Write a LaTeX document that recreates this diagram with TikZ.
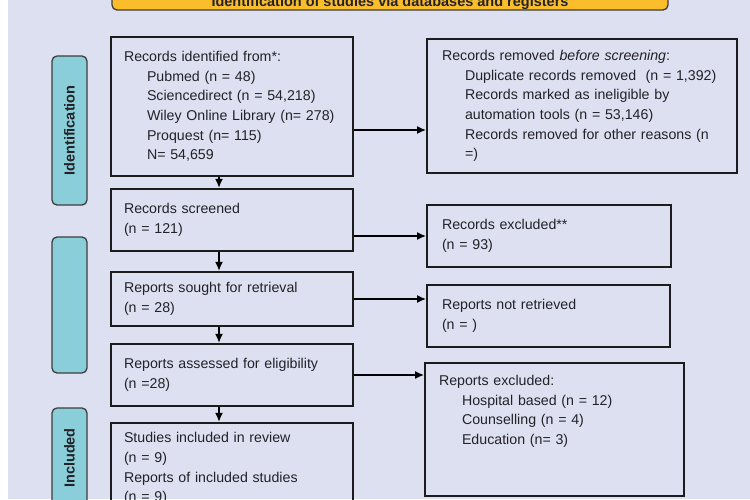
\documentclass[tikz,border=0pt]{standalone}
\usepackage{fontspec}
\setmainfont{Liberation Sans}
\usetikzlibrary{positioning,arrows.meta}
\definecolor{bgcol}{RGB}{221,224,240}
\definecolor{sidecol}{RGB}{137,206,216}
\definecolor{topcol}{RGB}{251,189,44}
\definecolor{linecol}{RGB}{28,28,28}
\definecolor{txtcol}{RGB}{34,34,40}

\begin{document}
\begin{tikzpicture}[x=1pt, y=-1pt,
  font=\fontsize{14.2pt}{19.7pt}\selectfont, text=txtcol,
  box/.style={draw=linecol, line width=2.4pt, align=left, inner xsep=13pt, inner ysep=0pt, text width=216pt},
  rbox/.style={box, line width=2pt, inner xsep=15pt},
  sidebar/.style={draw=linecol!85, line width=1.3pt, fill=sidecol, rounded corners=5pt, rotate=90, minimum height=35pt, font=\fontsize{14.5pt}{16pt}\selectfont\bfseries},
  banner/.style={draw=linecol!85, line width=1.3pt, fill=topcol, rounded corners=5pt, inner ysep=0pt, font=\fontsize{14.5pt}{16pt}\selectfont\bfseries},
  >={Latex[length=9pt,width=8pt]}]
\useasboundingbox (0,0) rectangle (750,499);
\clip (0,0) rectangle (750,499);
\fill[white] (0,0) rectangle (8,499);
\fill[bgcol] (8,0) rectangle (750,499);
% title bar, cut off at the top
\node[banner, minimum width=556pt, minimum height=15.4pt] (title) at (390,2.3) {Identification of studies via databases and registers};
% phase bars on the left
\node[sidebar, minimum width=149pt] (sideid) at (69.5,130.5) {Identification};
\node[sidebar, minimum width=136pt] (sidescr) at (69.5,305) {};
\node[sidebar, minimum width=100pt] (sideinc) at (69.5,458) {Included};
% main column
\node[box, minimum height=139pt] (ident) at (232,106.5) {Records identified from*:\\
  \hspace*{23pt}Pubmed (n = 48)\\
  \hspace*{23pt}Sciencedirect (n = 54,218)\\
  \hspace*{23pt}Wiley Online Library (n= 278)\\
  \hspace*{23pt}Proquest (n= 115)\\
  \hspace*{23pt}N= 54,659};
\node[box, minimum height=62pt] (screened) at (232,220) {Records screened\\(n = 121)};
\node[box, minimum height=54pt] (sought) at (232,299) {Reports sought for retrieval\\(n = 28)};
\node[box, minimum height=62pt] (assessed) at (232,375) {Reports assessed for eligibility\\(n =28)};
\node[box, minimum height=91pt] (included) at (232,468.5) {Studies included in review\\(n = 9)\\Reports of included studies\\(n = 9)};
% side column
\node[rbox, inner xsep=13pt, text width=284pt, minimum height=134pt] (removed) at (582,106) {\hspace*{2pt}Records removed \textit{before screening}:\\
  \hspace*{25pt}Duplicate records removed\ \ (n = 1,392)\\
  \hspace*{25pt}Records marked as ineligible by\\
  \hspace*{25pt}automation tools (n = 53,146)\\
  \hspace*{25pt}Records removed for other reasons (n\\
  \hspace*{25pt}=)};
\node[rbox, text width=214pt, minimum height=62pt] (excluded) at (549,236) {Records excluded**\\(n = 93)};
\node[rbox, text width=213pt, minimum height=62pt] (notret) at (548.5,316) {Reports not retrieved\\(n = )};
\node[rbox, inner xsep=14pt, text width=231pt, minimum height=133pt] (repexcl) at (554.5,429.5) {Reports excluded:\\
  \hspace*{23pt}Hospital based (n = 12)\\
  \hspace*{23pt}Counselling (n = 4)\\
  \hspace*{23pt}Education (n= 3)\\ \mbox{}\\ \mbox{}};
% arrows
\coordinate (spine) at (219,0);
\coordinate[below=23.5pt of ident.east] (idout);
\draw[->, line width=1.4pt] (spine |- ident.south) -- (spine |- screened.north);
\draw[->, line width=1.4pt] (spine |- screened.south) -- (spine |- sought.north);
\draw[->, line width=1.4pt] (spine |- sought.south) -- (spine |- assessed.north);
\draw[->, line width=1.4pt] (spine |- assessed.south) -- (spine |- included.north);
\draw[->, line width=1.4pt] (idout) -- (idout -| removed.west);
\draw[->, line width=1.4pt] (screened.east |- excluded.west) -- (excluded.west);
\draw[->, line width=1.4pt] (sought.east) -- (sought.east -| notret.west);
\draw[->, line width=1.4pt] (assessed.east) -- (assessed.east -| repexcl.west);
\end{tikzpicture}
\end{document}
